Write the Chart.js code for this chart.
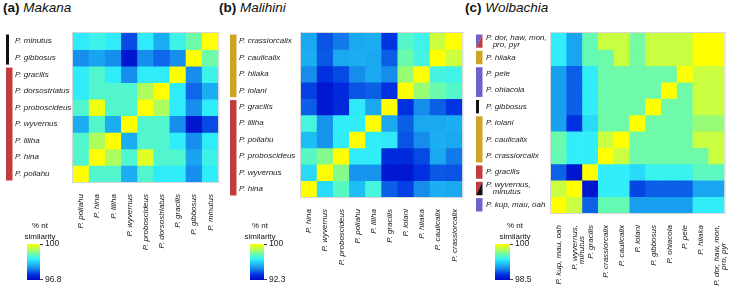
<!DOCTYPE html>
<html lang="en">
<head>
<meta charset="UTF-8">
<title>% nt similarity heatmaps</title>
<script src="https://cdn.jsdelivr.net/npm/chart.js@4"></script>
<style>
  body { margin: 0; background: #fff; font-family: 'Liberation Sans', Arial, sans-serif; color: #111; }
  #wrap { position: relative; width: 736px; height: 287px; overflow: hidden; }
  canvas { position: absolute; top: 0; }
  .title { position: absolute; top: 0; font-size: 13.5px; line-height: 16px; white-space: nowrap; }
  .title i { font-weight: normal; }
  .cbtitle { position: absolute; top: 221px; width: 60px; text-align: center; font-size: 8px; line-height: 10.5px; }
</style>
</head>
<body>
<div id="wrap">
  <div class="title" style="left:3px"><b>(a)</b> <i>Makana</i></div>
  <div class="title" style="left:219px"><b>(b)</b> <i>Malihini</i></div>
  <div class="title" style="left:465px"><b>(c)</b> <i>Wolbachia</i></div>

  <canvas id="heatA" width="224" height="287" style="left:0"></canvas>
  <canvas id="heatB" width="242" height="287" style="left:226px"></canvas>
  <canvas id="heatC" width="264" height="287" style="left:472px"></canvas>

  <div class="cbtitle" style="left:10px">% nt<br>similarity</div>
  <div class="cbtitle" style="left:230px">% nt<br>similarity</div>
  <div class="cbtitle" style="left:485px">% nt<br>similarity</div>
  <canvas id="cbA" width="55" height="51" style="left:20px;top:236px"></canvas>
  <canvas id="cbB" width="55" height="51" style="left:243px;top:236px"></canvas>
  <canvas id="cbC" width="55" height="51" style="left:488px;top:236px"></canvas>
</div>
<script>
// ---- data ----
// (a) Makana: rows top -> bottom, columns left -> right (% nt similarity)
const makanaRows = ['P. minutus', 'P. gibbosus', 'P. gracilis', 'P. dorsostriatus', 'P. proboscideus',
  'P. wyvernus', 'P. liliha', 'P. hina', 'P. poliahu'];
const makanaCols = ['P. poliahu', 'P. hina', 'P. liliha', 'P. wyvernus', 'P. proboscideus',
  'P. dorsostriatus', 'P. gracilis', 'P. gibbosus', 'P. minutus'];
const makanaValues = [
  [98.62, 98.75, 98.62, 97.42, 98.62, 98.08, 98.75, 99.1, 100],
  [97.85, 98.0, 97.85, 96.96, 97.85, 97.6, 97.85, 100, 99.1],
  [98.62, 98.9, 98.62, 97.85, 98.62, 98.62, 100, 97.85, 98.75],
  [98.62, 98.9, 98.9, 98.9, 99.5, 100, 98.62, 97.6, 98.08],
  [98.9, 99.9, 98.9, 98.9, 100, 99.5, 98.62, 97.85, 98.62],
  [98.08, 98.9, 98.08, 100, 98.9, 98.9, 97.85, 96.96, 97.42],
  [98.9, 99.5, 100, 98.08, 98.9, 98.9, 98.62, 97.85, 98.62],
  [98.9, 100, 99.5, 98.9, 99.8, 98.9, 98.9, 98.0, 98.75],
  [100, 98.9, 98.9, 98.08, 98.9, 98.62, 98.62, 97.85, 98.62]
];
const makanaMin = 96.8;
const makanaGroups = [['black', 0, 1], ['red', 2, 8]];

// (b) Malihini
const malihiniRows = ['P. crassiorcalix', 'P. caulicalix', 'P. hiiaka', 'P. iolani', 'P. gracilis',
  'P. liliha', 'P. poliahu', 'P. proboscideus', 'P. wyvernus', 'P. hina'];
const malihiniCols = ['P. hina', 'P. wyvernus', 'P. proboscideus', 'P. poliahu', 'P. liliha',
  'P. gracilis', 'P. iolani', 'P. hiiaka', 'P. caulicalix', 'P. crassiorcalix'];
const malihiniValues = [
  [95.3, 93.95, 94.5, 95.3, 95.4, 93.5, 97.4, 97.0, 99.2, 100],
  [95.4, 94.0, 95.3, 95.4, 95.3, 94.1, 97.8, 97.1, 100, 99.2],
  [94.8, 93.4, 93.8, 94.8, 95.3, 94.8, 98.5, 100, 97.1, 97.0],
  [93.66, 92.7, 93.24, 93.95, 94.1, 93.4, 100, 98.5, 97.8, 97.4],
  [94.1, 92.7, 93.24, 96.6, 95.3, 100, 93.4, 94.8, 94.1, 93.5],
  [97.15, 94.95, 96.7, 96.7, 100, 95.3, 94.1, 95.3, 95.3, 95.4],
  [95.67, 94.95, 96.7, 100, 96.7, 96.6, 93.95, 94.8, 95.4, 95.3],
  [97.46, 98.2, 100, 96.7, 96.7, 93.24, 93.24, 93.8, 95.3, 94.5],
  [96.3, 100, 98.2, 94.95, 94.95, 92.7, 92.7, 93.4, 94.0, 93.95],
  [100, 96.3, 97.46, 95.67, 97.15, 94.1, 93.66, 94.8, 95.4, 95.3]
];
const malihiniMin = 92.3;
const malihiniGroups = [['gold', 0, 3], ['red', 4, 9]];

// (c) Wolbachia
const wolbachiaRows = [['P. dor, haw, mon,', '   pro, pyr'], 'P. hiiaka', 'P. pele', 'P. ohiacola', 'P. gibbosus',
  'P. iolani', 'P. caulicalix', 'P. crassiorcalix', 'P. gracilis', ['P. wyvernus,', '   minutus'], 'P. kup, mau, oah'];
const wolbachiaCols = ['P. kup, mau, oah', ['P. wyvernus,', 'minutus     '], 'P. gracilis', 'P. crassiorcalix', 'P. caulicalix',
  'P. iolani', 'P. gibbosus', 'P. ohiacola', 'P. pele', 'P. hiiaka', ['P. dor, haw, mon,', 'pro, pyr        ']];
const wolbachiaValues = [
  [99.36, 99.07, 99.55, 99.84, 99.84, 99.6, 99.84, 99.84, 99.84, 100, 100],
  [99.36, 99.07, 99.55, 99.58, 99.84, 99.6, 99.84, 99.84, 99.84, 100, 100],
  [99.05, 98.85, 99.36, 99.58, 99.58, 99.58, 99.58, 99.58, 100, 99.84, 99.84],
  [99.05, 98.85, 99.36, 99.58, 99.58, 99.58, 99.58, 100, 99.58, 99.84, 99.84],
  [99.05, 98.85, 99.36, 99.58, 99.58, 99.58, 100, 99.58, 99.58, 99.84, 99.84],
  [99.05, 98.72, 99.28, 99.58, 99.58, 100, 99.58, 99.58, 99.58, 99.7, 99.7],
  [99.57, 99.36, 99.36, 99.84, 100, 99.58, 99.58, 99.58, 99.58, 99.84, 99.84],
  [99.55, 99.36, 99.36, 100, 99.84, 99.58, 99.58, 99.58, 99.58, 99.58, 99.84],
  [98.86, 98.56, 100, 99.36, 99.36, 99.28, 99.4, 99.4, 99.4, 99.52, 99.52],
  [99.84, 100, 98.56, 99.36, 99.36, 98.78, 98.85, 98.85, 98.85, 99.07, 99.07],
  [100, 99.84, 98.86, 99.55, 99.55, 99.05, 99.05, 99.05, 99.05, 99.36, 99.36]
];
const wolbachiaMin = 98.5;
const wolbachiaGroups = [['purple+red', 0, 0], ['gold', 1, 1], ['purple', 2, 3], ['black', 4, 4],
  ['gold', 5, 7], ['red', 8, 8], ['red+black', 9, 9], ['purple', 10, 10]];

// ---- styles ----
const groupColors = { black: '#111111', red: '#c23c3e', gold: '#cfa324', purple: '#6b62cc' };
const textColor = '#1a1a1a';
const fontFamily = "'Liberation Sans', Arial, sans-serif";

// colour scale: dark blue -> blue -> cyan -> light green -> yellow
const scaleStops = [
  [0, [0, 10, 200]], [0.15, [0, 50, 225]], [0.3, [20, 130, 235]], [0.45, [30, 195, 245]],
  [0.58, [50, 240, 250]], [0.7, [100, 250, 180]], [0.8, [150, 252, 120]], [0.9, [205, 255, 60]],
  [1, [255, 255, 0]]
];
function scaleColor(t) {
  t = Math.max(0, Math.min(1, t));
  for (let k = 1; k < scaleStops.length; k++) {
    const [t1, c1] = scaleStops[k];
    if (t <= t1) {
      const [t0, c0] = scaleStops[k - 1];
      const f = (t - t0) / (t1 - t0);
      const m = c0.map((v, j) => Math.round(v + (c1[j] - v) * f));
      return `rgb(${m[0]},${m[1]},${m[2]})`;
    }
  }
  return 'rgb(255,255,0)';
}
function colorFor(v, lo) {
  return scaleColor((v - lo) / (100 - lo));
}

// side bars showing the species groups + light frame round the heatmap
const groupPlugin = {
  id: 'groups',
  afterDraw(chart, args, opts) {
    const { ctx, chartArea: a } = chart;
    const y = chart.scales.y;
    ctx.save();
    ctx.strokeStyle = '#d6d6d6';
    ctx.lineWidth = 1;
    ctx.strokeRect(a.left - 0.5, a.top - 0.5, a.width + 1, a.height + 1);
    opts.list.forEach(([kind, first, last]) => {
      const top = y.getPixelForValue(first) + 1.5;
      const bottom = y.getPixelForValue(last + 1) - 1.5;
      const parts = kind.split('+').map(k => groupColors[k]);
      const w = kind === 'black' ? opts.thin : opts.width;
      const x = opts.x;
      if (parts.length === 1) {
        ctx.fillStyle = parts[0];
        ctx.fillRect(x, top, w, bottom - top);
      } else {
        ctx.fillStyle = parts[0];
        ctx.beginPath();
        ctx.moveTo(x, top); ctx.lineTo(x + w, top); ctx.lineTo(x, bottom); ctx.closePath();
        ctx.fill();
        ctx.fillStyle = parts[1];
        ctx.beginPath();
        ctx.moveTo(x + w, top); ctx.lineTo(x + w, bottom); ctx.lineTo(x, bottom); ctx.closePath();
        ctx.fill();
      }
    });
    ctx.restore();
  }
};

function heatmap(id, rows, cols, values, lo, groups, geo) {
  const font = { family: fontFamily, size: 8, style: 'italic', lineHeight: geo.lh || 1.2 };
  return new Chart(document.getElementById(id), {
    type: 'bar',
    data: {
      labels: cols,
      datasets: rows.map((r, i) => ({
        label: Array.isArray(r) ? r.join(' ') : r,
        data: cols.map(() => 1),
        backgroundColor: values[i].map(v => colorFor(v, lo)),
        borderWidth: 0,
        barPercentage: 1,
        categoryPercentage: 1
      }))
    },
    options: {
      responsive: false,
      animation: false,
      events: [],
      layout: { padding: { top: 33, left: geo.padLeft, right: geo.padRight, bottom: 0 } },
      plugins: {
        legend: { display: false },
        tooltip: { enabled: false },
        groups: { list: groups, x: geo.barX, width: 6.5, thin: 3 }
      },
      scales: {
        x: {
          stacked: true,
          grid: { display: false },
          border: { display: false },
          ticks: { font, color: textColor, minRotation: 90, maxRotation: 90, autoSkip: false, padding: 4 },
          afterFit: s => { s.height = geo.xh; }
        },
        y: {
          stacked: true,
          reverse: true,
          min: 0,
          max: rows.length,
          grid: { display: false },
          border: { display: false },
          afterBuildTicks: s => { s.ticks = rows.map((_, i) => ({ value: i + 0.5 })); },
          ticks: { font, color: textColor, crossAlign: 'far', autoSkip: false, padding: 0,
                   callback: (v, i) => rows[i] },
          afterFit: s => { s.width = geo.yw; }
        }
      }
    },
    plugins: [groupPlugin]
  });
}

function colorbar(id, lo, axisW) {
  return new Chart(document.getElementById(id), {
    type: 'bar',
    data: {
      labels: [''],
      datasets: [{
        data: [[lo, 100]],
        borderWidth: 0,
        barPercentage: 1,
        categoryPercentage: 1,
        backgroundColor: c => {
          const a = c.chart.chartArea;
          if (!a) return null;
          const g = c.chart.ctx.createLinearGradient(0, a.bottom, 0, a.top);
          scaleStops.forEach(([t]) => g.addColorStop(t, scaleColor(t)));
          return g;
        }
      }]
    },
    options: {
      responsive: false,
      animation: false,
      events: [],
      layout: { padding: { left: 7, top: 8, bottom: 5, right: 0 } },
      plugins: { legend: { display: false }, tooltip: { enabled: false } },
      scales: {
        x: { display: false },
        y: {
          position: 'right',
          min: lo,
          max: 100,
          grid: { drawOnChartArea: false, tickLength: 3, color: '#444' },
          border: { display: false },
          afterBuildTicks: s => { s.ticks = [{ value: lo }, { value: 100 }]; },
          ticks: { font: { family: fontFamily, size: 8.5 }, color: textColor, padding: 2, callback: v => String(v) },
          afterFit: s => { s.width = axisW; }
        }
      }
    }
  });
}

heatmap('heatA', makanaRows, makanaCols, makanaValues, makanaMin, makanaGroups,
  { padLeft: 15, padRight: 2, yw: 58, xh: 105, barX: 6 });
heatmap('heatB', malihiniRows, malihiniCols, malihiniValues, malihiniMin, malihiniGroups,
  { padLeft: 13, padRight: 2, yw: 62, xh: 90, barX: 4 });
heatmap('heatC', wolbachiaRows, wolbachiaCols, wolbachiaValues, wolbachiaMin, wolbachiaGroups,
  { padLeft: 14, padRight: 4, yw: 65, xh: 74, barX: 4, lh: 0.95 });

colorbar('cbA', makanaMin, 35);
colorbar('cbB', malihiniMin, 34);
colorbar('cbC', wolbachiaMin, 33);
</script>
</body>
</html>
